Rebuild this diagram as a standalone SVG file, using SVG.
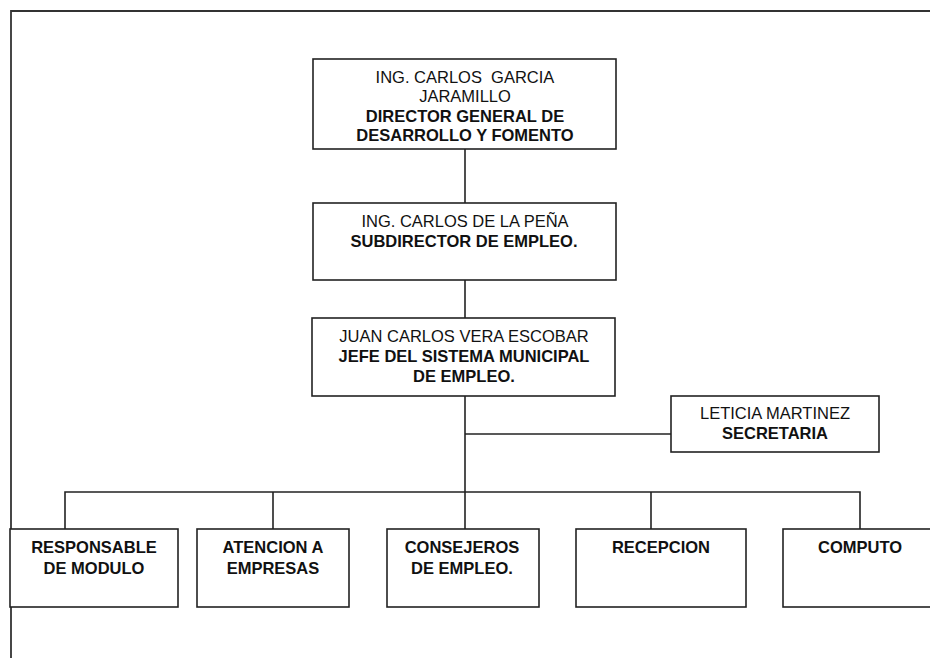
<svg xmlns="http://www.w3.org/2000/svg" width="930" height="658" viewBox="0 0 930 658">
<style>
.box{fill:#fff;stroke:#222;stroke-width:1.6}
.ln{fill:none;stroke:#222;stroke-width:1.6}
.frame{fill:none;stroke:#333;stroke-width:1.8}
text{font-family:"Liberation Sans",Arial,sans-serif;font-size:16.5px;fill:#111;text-anchor:middle}
.b{font-weight:bold}
</style>
<rect width="930" height="658" fill="#fff"/>
<path class="frame" d="M11,658 V11 H930"/>
<g id="connectors">
<line class="ln" x1="465" y1="149" x2="465" y2="203"/>
<line class="ln" x1="465" y1="280" x2="465" y2="318"/>
<line class="ln" x1="465" y1="396" x2="465" y2="529"/>
<line class="ln" x1="465" y1="434" x2="671" y2="434"/>
<path class="ln" d="M65,529 V492 H860 V529"/>
<line class="ln" x1="273" y1="492" x2="273" y2="529"/>
<line class="ln" x1="651" y1="492" x2="651" y2="529"/>
</g>
<g id="director">
<rect class="box" x="313" y="59" width="303" height="90"/>
<text x="465" y="83">ING. CARLOS&#160; GARCIA</text>
<text x="465" y="102">JARAMILLO</text>
<text class="b" x="465" y="122">DIRECTOR GENERAL DE</text>
<text class="b" x="465" y="141">DESARROLLO Y FOMENTO</text>
</g>
<g id="subdirector">
<rect class="box" x="313" y="203" width="303" height="77"/>
<text x="465" y="227">ING. CARLOS DE LA PEÑA</text>
<text class="b" x="464" y="247">SUBDIRECTOR DE EMPLEO.</text>
</g>
<g id="jefe">
<rect class="box" x="312" y="318" width="303" height="78"/>
<text x="464" y="342">JUAN CARLOS VERA ESCOBAR</text>
<text class="b" x="464" y="362">JEFE DEL SISTEMA MUNICIPAL</text>
<text class="b" x="464" y="382">DE EMPLEO.</text>
</g>
<g id="secretaria">
<rect class="box" x="671" y="396" width="208" height="56"/>
<text x="775" y="419">LETICIA MARTINEZ</text>
<text class="b" x="775" y="439">SECRETARIA</text>
</g>
<g id="responsable">
<rect class="box" x="10" y="529" width="168" height="78"/>
<text class="b" x="94" y="553">RESPONSABLE</text>
<text class="b" x="94" y="574">DE MODULO</text>
</g>
<g id="atencion">
<rect class="box" x="197" y="529" width="152" height="78"/>
<text class="b" x="273" y="553">ATENCION A</text>
<text class="b" x="273" y="574">EMPRESAS</text>
</g>
<g id="consejeros">
<rect class="box" x="387" y="529" width="152" height="78"/>
<text class="b" x="462" y="553">CONSEJEROS</text>
<text class="b" x="462" y="574">DE EMPLEO.</text>
</g>
<g id="recepcion">
<rect class="box" x="576" y="529" width="170" height="78"/>
<text class="b" x="661" y="553">RECEPCION</text>
</g>
<g id="computo">
<rect class="box" x="783" y="529" width="152" height="78"/>
<text class="b" x="860" y="553">COMPUTO</text>
</g>
</svg>
